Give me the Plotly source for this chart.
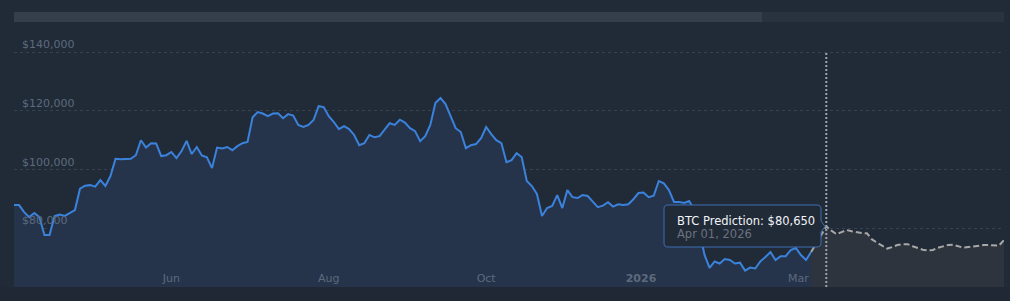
import plotly.graph_objects as go

# ---- data ----
hist_values = [
    87900, 87900, 85500, 83800, 85200, 83800, 77700, 77700, 84200, 84700,
    84200, 85200, 86200, 93500, 94500, 94700, 94200, 96400, 94400, 97800,
    103700, 103500, 103700, 103700, 104900, 110000, 107500, 109000, 108900, 104600,
    104900, 106000, 103900, 106300, 109800, 105300, 107700, 104800, 104200, 100500,
    107500, 107200, 107700, 106600, 108000, 109000, 109400, 117800, 119600, 119100,
    118200, 119100, 119200, 117500, 118900, 118400, 115200, 114500, 115200, 116900,
    121600, 121300, 118200, 116200, 113800, 114800, 113800, 111800, 108300, 109000,
    111800, 111000, 111400, 113800, 115800, 115200, 117000, 116000, 114100, 113100,
    109700, 111400, 115200, 122700, 124400, 122300, 118000, 114100, 112800, 107300,
    108300, 108700, 110700, 114500, 112100, 110000, 109000, 102500, 103200, 105600,
    104300, 96100, 94400, 91700, 84200, 86900, 87600, 91300, 86900, 93000,
    90600, 90300, 91300, 91000, 89100, 87200, 87700, 88900, 87400, 88200,
    87900, 88200, 89900, 92000, 92200, 90600, 91100, 96100, 95300, 93000,
    89000, 89000, 88600, 89300, 86200, 79400, 71000, 66500, 68700, 68000,
    69500, 69200, 68000, 68300, 65600, 66600, 66300, 68700, 70200, 71900,
    69200, 70500, 70500, 72600, 73300, 70900, 69200, 71900,
]
pred_values = [
    80650, 79200, 78000, 78700, 79400, 79000, 78600, 78400, 78300, 76200,
    75100, 74100, 73100, 73600, 74300, 74600, 74600, 73900, 73300, 72700,
    72500, 72600, 73400, 73900, 74300, 74400, 73900, 73400, 73600, 73900,
    74100, 74300, 74300, 74100, 74100, 76000,
]
pred_gap = 3  # slots between last actual point and first forecast point
tick_positions = [31, 62, 93, 123.5, 154.5]
tick_labels = ["Jun", "Aug", "Oct", "<b>2026</b>", "Mar"]
y_ticks = [80000, 100000, 120000, 140000]
y_tick_labels = [f"${v:,}" for v in y_ticks]
y_range = [60000, 140400]
pred_label = "BTC Prediction"
pred_date = "Apr 01, 2026"

# ---- derived series ----
hist_x = list(range(len(hist_values)))
last = hist_x[-1]
pred_x = [last] + [last + pred_gap + i for i in range(len(pred_values))]
pred_y = [hist_values[-1]] + pred_values
x_max = pred_x[-1]

# ---- layout helpers (pixel -> paper) ----
W, H = 1010, 301
L, R, T, B = 14, 6, 51, 14
def px(x):
    return (x - L) / (W - L - R)
def py(y):
    return (H - B - y) / (H - T - B)
def P(x, y):
    return f"{px(x):.5f},{py(y):.5f}"

BG = "#212b38"
TICK_COLOR = "#5d6a7d"
fig = go.Figure()
fig.add_trace(go.Scatter(
    x=pred_x, y=pred_y, mode="lines",
    line=dict(color="#a8a8a8", width=2, dash="6px,3px"),
    fill="tozeroy", fillcolor="#2d343e", hoverinfo="skip",
))
fig.add_trace(go.Scatter(
    x=hist_x, y=hist_values, mode="lines",
    line=dict(color="#3b82dc", width=2),
    fill="tozeroy", fillcolor="#25344b", hoverinfo="skip",
))

shapes = [
    # bottom strip
    dict(type="rect", xref="paper", yref="paper", x0=px(0), x1=px(W), y0=py(H), y1=0,
         fillcolor="#1f2834", line=dict(width=0), layer="below"),
    # range navigator
    dict(type="rect", xref="paper", yref="paper", x0=0, x1=1, y0=py(22), y1=py(12),
         fillcolor="#29323f", line=dict(width=0), layer="below"),
    dict(type="rect", xref="paper", yref="paper", x0=0, x1=px(762), y0=py(22), y1=py(12),
         fillcolor="#353f4c", line=dict(width=0), layer="below"),
    # vertical marker at forecast point
    dict(type="line", xref="x", yref="y", x0=pred_x[1], x1=pred_x[1],
         y0=y_range[0], y1=y_ticks[-1],
         line=dict(color="#9ca3af", width=2, dash="2px,2px")),
    # tooltip box
    dict(type="path", xref="paper", yref="paper",
         path=(f"M {P(668,205)} L {P(817,205)} Q {P(821,205)} {P(821,209)} "
               f"L {P(821,221)} L {P(825,226.5)} L {P(821,232)} L {P(821,243)} "
               f"Q {P(821,247)} {P(817,247)} L {P(668,247)} Q {P(664,247)} {P(664,243)} "
               f"L {P(664,209)} Q {P(664,205)} {P(668,205)} Z"),
         fillcolor="#212a37", line=dict(color="#3d6fb3", width=1)),
]

annotations = [
    dict(xref="paper", yref="paper", x=px(675), y=py(221), xanchor="left", yanchor="middle",
         text=f"{pred_label}: ${pred_values[0]:,}", showarrow=False,
         font=dict(family="DejaVu Sans", size=11.5, color="#f1f5f9")),
    dict(xref="paper", yref="paper", x=px(675), y=py(233.5), xanchor="left", yanchor="middle",
         text=pred_date, showarrow=False,
         font=dict(family="DejaVu Sans", size=11.5, color="#6b7280")),
]

fig.update_layout(
    width=W, height=H, margin=dict(l=L, r=R, t=T, b=B),
    paper_bgcolor=BG, plot_bgcolor=BG, showlegend=False,
    font=dict(family="DejaVu Sans", size=11, color=TICK_COLOR),
    shapes=shapes, annotations=annotations,
    xaxis=dict(range=[0, x_max], tickvals=tick_positions, ticktext=tick_labels,
               tickfont=dict(family="DejaVu Sans", size=11, color=TICK_COLOR),
               showgrid=False, zeroline=False, showline=False, ticks="",
               ticklabelposition="inside", fixedrange=True),
    yaxis=dict(range=y_range, tickvals=y_ticks, ticktext=y_tick_labels,
               tickfont=dict(family="DejaVu Sans", size=11, color=TICK_COLOR),
               showgrid=True, gridcolor="#364152", gridwidth=1, griddash="3px,3px",
               zeroline=False, showline=False, ticks="",
               ticklabelposition="inside top", ticklabeloverflow="allow",
               ticklabelstandoff=5),
)

fig.write_html("out.html")
